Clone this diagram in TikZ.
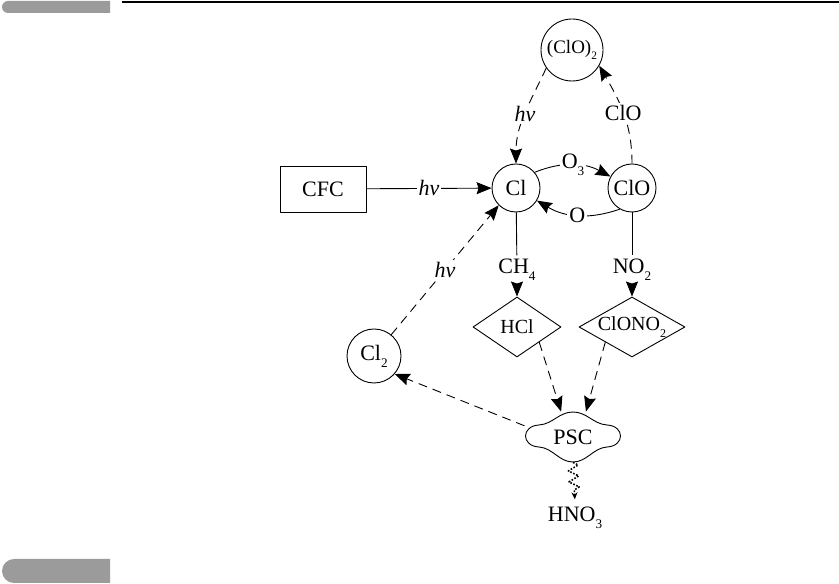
\documentclass[tikz,border=0pt]{standalone}
\usepackage{fontspec}
\setmainfont{Liberation Serif}
\usetikzlibrary{arrows.meta,shapes.geometric,decorations.pathmorphing}
\definecolor{barcol}{RGB}{155,155,155}
\newcommand{\hv}{\textit{hν}}
\newcommand{\sub}[1]{\raisebox{-0.32em}{\scalebox{0.6}{#1}}}
\begin{document}
\begin{tikzpicture}[x=1pt, y=1pt, line width=0.9pt, line join=round, >={Stealth[length=15pt,width=12pt,inset=2pt]},
	font=\fontsize{22}{26}\selectfont,
	spc/.style={draw, circle, inner sep=0pt},
	res/.style={draw, diamond, inner sep=0pt, font=\fontsize{20}{24}\selectfont},
	lbl/.style={fill=white, inner sep=2pt},
	dsh/.style={dash pattern=on 9pt off 6pt}]
	\useasboundingbox (0,0) rectangle (839,584);
	\fill[barcol] (110,583)--(8,583) arc[start angle=90, end angle=270, radius=6pt]--(110,571)--cycle;
	\fill[barcol] (110,25)--(14,25) arc[start angle=90, end angle=270, radius=12pt]--(110,1)--cycle;
	\draw[line width=2pt] (122,582)--(839,582);
	\node[draw, minimum width=86pt, minimum height=46pt] (cfc) at (323,395) {CFC};
	\node[spc, minimum size=48pt] (cl) at (516,396) {Cl};
	\node[spc, minimum size=48pt] (clo) at (632,396) {ClO};
	\node[spc, minimum size=62pt, font=\fontsize{19}{22}\selectfont] (clo2) at (572,534) {(ClO)\sub{2}};
	\node[spc, minimum size=54pt] (cl2) at (374,228) {Cl\sub{2}};
	\node (ch4) at (517,314) {CH\sub{4}};
	\node (no2) at (632,314) {NO\sub{2}};
	\node[res, aspect=1.47, minimum width=88pt, minimum height=60pt] (hcl) at (517,257) {HCl};
	\node[res, aspect=1.73, minimum width=106pt, minimum height=60pt] (clono2) at (632,257) {ClONO\sub{2}};
	\node[minimum width=96pt, minimum height=50pt, inner sep=0pt] (psc) at (573,147) {PSC};
	\node (hno3) at (575,66) {HNO\sub{3}};
	\draw[shift={(psc.center)}] (0,25) .. controls (14,25) and (20,13) .. (34,12) .. controls (52,11) and (52,-9) .. (34,-10) .. controls (20,-11) and (14,-25) .. (0,-25) .. controls (-14,-25) and (-20,-11) .. (-34,-10) .. controls (-52,-9) and (-52,11) .. (-34,12) .. controls (-20,13) and (-14,25) .. (0,25)--cycle;
	\draw[->] (cfc)--node[lbl]{\hv} (cl);
	\draw[->] (cl.40) to[bend left=25] node[lbl]{O\sub{3}} (clo.152);
	\draw[->] (clo.-120) to[bend left=25] node[lbl]{O} (cl.-31);
	\draw[dsh, ->] (clo2.215) to[out=245, in=90] node[lbl]{\hv} (cl.north);
	\draw[dsh, ->] (clo.north) to[out=90, in=-60] node[lbl]{ClO} (clo2.-30);
	\draw (cl)--(ch4);
	\draw[->] (ch4)--(hcl);
	\draw (clo)--(no2);
	\draw[->] (no2)--(clono2);
	\draw[dsh, ->] (cl2.51)--node[lbl]{\hv} (cl.225);
	\draw[dsh, ->] (psc.167)--(cl2.-41);
	\draw[dsh, ->] (hcl.south east)--(psc.115);
	\draw[dsh, ->] (clono2.south west)--(psc.63);
	\draw[line width=1.6pt, dash pattern=on 1.6pt off 1.6pt, decorate, decoration={zigzag, segment length=11pt, amplitude=5pt, post length=8pt}, -{Stealth[length=7pt,width=6pt]}, shorten >=4pt] (psc.south)--(hno3.north);
\end{tikzpicture}
\end{document}
